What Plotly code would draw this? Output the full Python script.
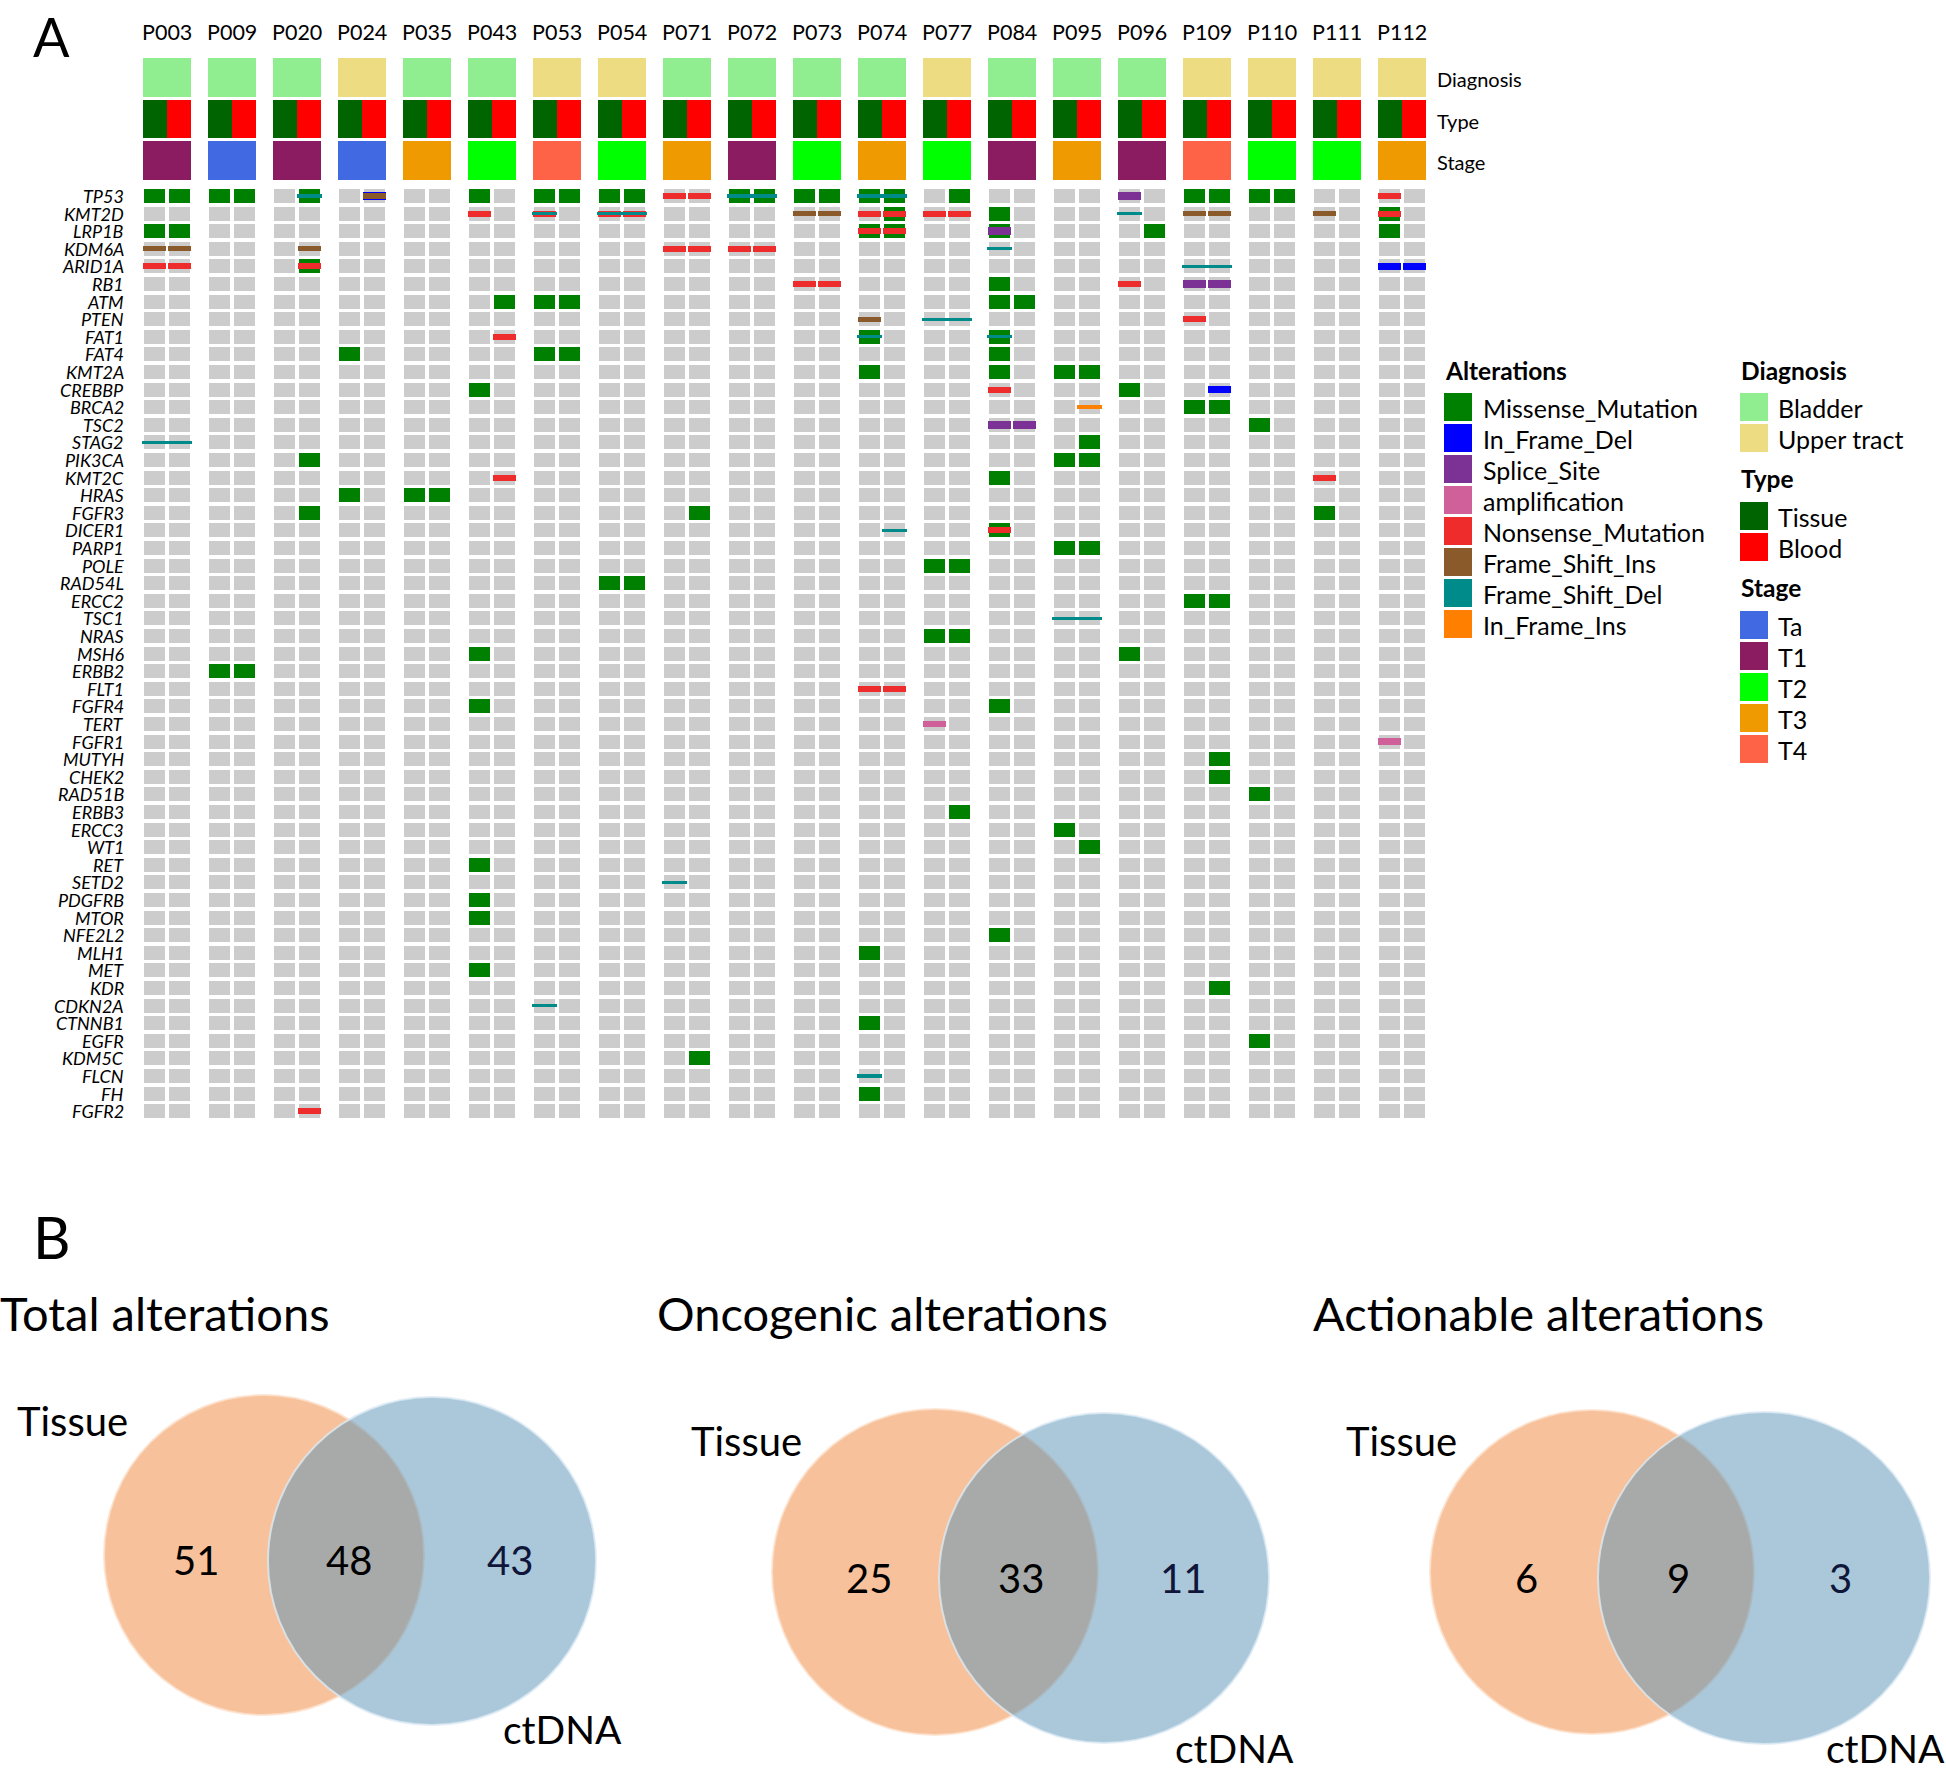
import plotly.graph_objects as go

W, H = 1946, 1772
FONT = "Lato"

# ---------------- data ----------------
patients = ["P003", "P009", "P020", "P024", "P035", "P043", "P053", "P054", "P071", "P072",
            "P073", "P074", "P077", "P084", "P095", "P096", "P109", "P110", "P111", "P112"]
genes = ["TP53", "KMT2D", "LRP1B", "KDM6A", "ARID1A", "RB1", "ATM", "PTEN", "FAT1", "FAT4",
         "KMT2A", "CREBBP", "BRCA2", "TSC2", "STAG2", "PIK3CA", "KMT2C", "HRAS", "FGFR3", "DICER1",
         "PARP1", "POLE", "RAD54L", "ERCC2", "TSC1", "NRAS", "MSH6", "ERBB2", "FLT1", "FGFR4",
         "TERT", "FGFR1", "MUTYH", "CHEK2", "RAD51B", "ERBB3", "ERCC3", "WT1", "RET", "SETD2",
         "PDGFRB", "MTOR", "NFE2L2", "MLH1", "MET", "KDR", "CDKN2A", "CTNNB1", "EGFR", "KDM5C",
         "FLCN", "FH", "FGFR2"]
diagnosis = ["Bladder", "Bladder", "Bladder", "Upper tract", "Bladder", "Bladder", "Upper tract",
             "Upper tract", "Bladder", "Bladder", "Bladder", "Bladder", "Upper tract", "Bladder",
             "Bladder", "Bladder", "Upper tract", "Upper tract", "Upper tract", "Upper tract"]
stage = ["T1", "Ta", "T1", "Ta", "T3", "T2", "T4", "T2", "T3", "T1",
         "T2", "T3", "T2", "T1", "T3", "T1", "T4", "T2", "T2", "T3"]
sample_types = ["Tissue", "Blood"]

# (patient, gene, samples) ; samples: T = tissue, B = blood
missense = [
    ("P003", "TP53", "TB"), ("P003", "LRP1B", "TB"),
    ("P009", "TP53", "TB"), ("P009", "ERBB2", "TB"),
    ("P020", "TP53", "B"), ("P020", "ARID1A", "B"), ("P020", "PIK3CA", "B"), ("P020", "FGFR3", "B"),
    ("P024", "FAT4", "T"), ("P024", "HRAS", "T"),
    ("P035", "HRAS", "TB"),
    ("P043", "TP53", "T"), ("P043", "ATM", "B"), ("P043", "CREBBP", "T"), ("P043", "MSH6", "T"),
    ("P043", "FGFR4", "T"), ("P043", "RET", "T"), ("P043", "PDGFRB", "T"), ("P043", "MTOR", "T"),
    ("P043", "MET", "T"),
    ("P053", "TP53", "TB"), ("P053", "ATM", "TB"), ("P053", "FAT4", "TB"),
    ("P054", "TP53", "TB"), ("P054", "RAD54L", "TB"),
    ("P071", "FGFR3", "B"), ("P071", "KDM5C", "B"),
    ("P072", "TP53", "TB"),
    ("P073", "TP53", "TB"),
    ("P074", "TP53", "TB"), ("P074", "KMT2D", "B"), ("P074", "LRP1B", "TB"), ("P074", "FAT1", "T"),
    ("P074", "KMT2A", "T"), ("P074", "MLH1", "T"), ("P074", "CTNNB1", "T"), ("P074", "FH", "T"),
    ("P077", "TP53", "B"), ("P077", "POLE", "TB"), ("P077", "NRAS", "TB"), ("P077", "ERBB3", "B"),
    ("P084", "KMT2D", "T"), ("P084", "LRP1B", "T"), ("P084", "RB1", "T"), ("P084", "ATM", "TB"),
    ("P084", "FAT1", "T"), ("P084", "FAT4", "T"), ("P084", "KMT2A", "T"), ("P084", "KMT2C", "T"),
    ("P084", "DICER1", "T"), ("P084", "FGFR4", "T"), ("P084", "NFE2L2", "T"),
    ("P095", "KMT2A", "TB"), ("P095", "STAG2", "B"), ("P095", "PIK3CA", "TB"), ("P095", "PARP1", "TB"),
    ("P095", "ERCC3", "T"), ("P095", "WT1", "B"),
    ("P096", "LRP1B", "B"), ("P096", "CREBBP", "T"), ("P096", "MSH6", "T"),
    ("P109", "TP53", "TB"), ("P109", "BRCA2", "TB"), ("P109", "ERCC2", "TB"), ("P109", "MUTYH", "B"),
    ("P109", "CHEK2", "B"), ("P109", "KDR", "B"),
    ("P110", "TP53", "TB"), ("P110", "TSC2", "T"), ("P110", "RAD51B", "T"), ("P110", "EGFR", "T"),
    ("P111", "FGFR3", "T"),
    ("P112", "KMT2D", "T"), ("P112", "LRP1B", "T"),
]
in_frame_del = [("P024", "TP53", "B"), ("P109", "CREBBP", "B"), ("P112", "ARID1A", "TB")]
splice_site = [("P084", "LRP1B", "T"), ("P084", "TSC2", "TB"), ("P096", "TP53", "T"), ("P109", "RB1", "TB")]
amplification = [("P077", "TERT", "T"), ("P112", "FGFR1", "T")]
nonsense = [
    ("P003", "ARID1A", "TB"), ("P020", "ARID1A", "B"), ("P020", "FGFR2", "B"), ("P043", "KMT2D", "T"),
    ("P043", "FAT1", "B"), ("P043", "KMT2C", "B"), ("P053", "KMT2D", "T"), ("P054", "KMT2D", "TB"),
    ("P071", "TP53", "TB"), ("P071", "KDM6A", "TB"), ("P072", "KDM6A", "TB"), ("P073", "RB1", "TB"),
    ("P074", "KMT2D", "TB"), ("P074", "LRP1B", "TB"), ("P074", "FLT1", "TB"), ("P077", "KMT2D", "TB"),
    ("P084", "CREBBP", "T"), ("P084", "DICER1", "T"), ("P096", "RB1", "T"), ("P109", "PTEN", "T"),
    ("P111", "KMT2C", "T"), ("P112", "TP53", "T"), ("P112", "KMT2D", "T"),
]
frame_shift_ins = [("P003", "KDM6A", "TB"), ("P020", "KDM6A", "B"), ("P024", "TP53", "B"),
                   ("P073", "KMT2D", "TB"), ("P074", "PTEN", "T"), ("P109", "KMT2D", "TB"),
                   ("P111", "KMT2D", "T")]
frame_shift_del = [("P003", "STAG2", "TB"), ("P020", "TP53", "B"), ("P053", "KMT2D", "T"),
                   ("P053", "CDKN2A", "T"), ("P054", "KMT2D", "TB"), ("P071", "SETD2", "T"),
                   ("P072", "TP53", "TB"), ("P074", "TP53", "TB"), ("P074", "FAT1", "T"),
                   ("P074", "DICER1", "B"), ("P074", "FLCN", "T"), ("P077", "PTEN", "TB"),
                   ("P084", "KDM6A", "T"), ("P084", "FAT1", "T"), ("P095", "TSC1", "TB"),
                   ("P096", "KMT2D", "T"), ("P109", "ARID1A", "TB")]
in_frame_ins = [("P095", "BRCA2", "B")]

alteration_names = ["Missense_Mutation", "In_Frame_Del", "Splice_Site", "amplification",
                    "Nonsense_Mutation", "Frame_Shift_Ins", "Frame_Shift_Del", "In_Frame_Ins"]
alteration_data = [missense, in_frame_del, splice_site, amplification,
                   nonsense, frame_shift_ins, frame_shift_del, in_frame_ins]

venn_titles = ["Total alterations", "Oncogenic alterations", "Actionable alterations"]
tissue_only = [51, 25, 6]
shared = [48, 33, 9]
ctdna_only = [43, 11, 3]

# ---------------- styles ----------------
alt_colors = ["#008000", "#0000FF", "#7B3294", "#D0609A", "#EE2C2C", "#8B5A2B", "#008B8B", "#FF7F00"]
alt_height = [0.795, 0.44, 0.44, 0.38, 0.34, 0.29, 0.18, 0.21]
alt_width = [0.85, 0.90, 0.90, 0.90, 0.93, 0.93, 0.98, 1.00]
diag_colors = {"Bladder": "#90EE90", "Upper tract": "#EEDC82"}
type_colors = {"Tissue": "#006400", "Blood": "#FF0000"}
stage_colors = {"Ta": "#4169E1", "T1": "#8B1C62", "T2": "#00FF00", "T3": "#EE9A00", "T4": "#FF6347"}

# oncoprint geometry (axis units): one sub-column = 25 px, one gene row = 17.6 px
PATIENT_STEP = 2.6
X0_PX, XU = 154.7, 25.0
Y0_PX, YU = 196.0, 17.6


def pcol(p, s):
    return patients.index(p) * PATIENT_STEP + (0 if s == "T" else 1)


fig = go.Figure()

# background grey cells
bx, bb = [], []
for i, p in enumerate(patients):
    for s in "TB":
        for g in range(len(genes)):
            bx.append(pcol(p, s))
            bb.append(g - 0.3975)
fig.add_trace(go.Bar(x=bx, y=[0.795] * len(bx), base=bb, width=0.85, marker_color="#CCCCCC",
                     marker_line_width=0, hoverinfo="skip", xaxis="x", yaxis="y"))

# alterations
for name, data, col, h, w in zip(alteration_names, alteration_data, alt_colors, alt_height, alt_width):
    xs, bs = [], []
    for p, g, ss in data:
        for s in ss:
            xs.append(pcol(p, s))
            bs.append(genes.index(g) - h / 2)
    fig.add_trace(go.Bar(x=xs, y=[h] * len(xs), base=bs, width=w, marker_color=col,
                         marker_line_width=0, name=name, hoverinfo="skip", xaxis="x", yaxis="y"))

# annotation rows (Diagnosis / Type / Stage)
DIAG_TOP, DIAG_BOT = -7.84, -5.625
TYPE_TOP, TYPE_BOT = -5.45, -3.30
STAGE_TOP, STAGE_BOT = -3.125, -0.909
centers = [i * PATIENT_STEP + 0.4875 for i in range(len(patients))]
fig.add_trace(go.Bar(x=centers, y=[DIAG_BOT - DIAG_TOP] * len(patients), base=[DIAG_TOP] * len(patients),
                     width=1.95, marker_color=[diag_colors[d] for d in diagnosis], marker_line_width=0,
                     hoverinfo="skip"))
tx, tc = [], []
for i in range(len(patients)):
    for k, t in enumerate(sample_types):
        tx.append(i * PATIENT_STEP + k * 0.975)
        tc.append(type_colors[t])
fig.add_trace(go.Bar(x=tx, y=[TYPE_BOT - TYPE_TOP] * len(tx), base=[TYPE_TOP] * len(tx), width=0.975,
                     marker_color=tc, marker_line_width=0, hoverinfo="skip"))
fig.add_trace(go.Bar(x=centers, y=[STAGE_BOT - STAGE_TOP] * len(patients), base=[STAGE_TOP] * len(patients),
                     width=1.95, marker_color=[stage_colors[s] for s in stage], marker_line_width=0,
                     hoverinfo="skip"))

annotations = []
shapes = []


def P(x, y):
    return x / W, 1 - y / H


def text(x, y, t, size, xanchor="center", color="black", yanchor="middle"):
    px, py = P(x, y)
    annotations.append(dict(x=px, y=py, xref="paper", yref="paper", text=t, showarrow=False,
                            xanchor=xanchor, yanchor=yanchor,
                            font=dict(family=FONT, size=size, color=color)))


# patient labels
for i, p in enumerate(patients):
    annotations.append(dict(x=centers[i], y=(32 - Y0_PX) / YU, xref="x", yref="y", text=p, showarrow=False,
                            xanchor="center", yanchor="middle", font=dict(family=FONT, size=21.5, color="black")))
# gene labels
for g, name in enumerate(genes):
    annotations.append(dict(x=-1.15, y=g, xref="x", yref="y", text="<i>%s</i>" % name, showarrow=False,
                            xanchor="right", yanchor="middle", font=dict(family=FONT, size=18, color="black")))
# row labels
lab_x = (len(patients) - 1) * PATIENT_STEP + 1.465 + 0.35
for lab, (a, b) in zip(["Diagnosis", "Type", "Stage"],
                       [(DIAG_TOP, DIAG_BOT), (TYPE_TOP, TYPE_BOT), (STAGE_TOP, STAGE_BOT)]):
    annotations.append(dict(x=lab_x, y=(a + b) / 2 + 0.1, xref="x", yref="y", text=lab, showarrow=False,
                            xanchor="left", yanchor="middle", font=dict(family=FONT, size=20, color="black")))

# panel letters
text(31, 2, "A", 54, xanchor="left", yanchor="top")
text(31, 1236, "B", 58, xanchor="left")


# legends
def swatch(x, y, color):
    x0, y1 = P(x, y - 14)
    x1, y0 = P(x + 28, y + 14)
    shapes.append(dict(type="rect", xref="paper", yref="paper", x0=x0, x1=x1, y0=y0, y1=y1,
                       fillcolor=color, line=dict(width=0), layer="above"))


text(1443, 370, "<b>Alterations</b>", 24.5, xanchor="left")
for k, (name, col) in enumerate(zip(alteration_names, alt_colors)):
    yy = 407 + 31 * k
    swatch(1444, yy, col)
    text(1481, yy + 1, name, 25, xanchor="left")

text(1739, 370, "<b>Diagnosis</b>", 24.5, xanchor="left")
for k, d in enumerate(["Bladder", "Upper tract"]):
    yy = 407 + 31 * k
    swatch(1740, yy, diag_colors[d])
    text(1776, yy + 1, d, 25, xanchor="left")
text(1739, 479, "<b>Type</b>", 24.5, xanchor="left")
for k, t in enumerate(sample_types):
    yy = 516 + 31 * k
    swatch(1740, yy, type_colors[t])
    text(1776, yy + 1, t, 25, xanchor="left")
text(1739, 588, "<b>Stage</b>", 24.5, xanchor="left")
for k, s in enumerate(["Ta", "T1", "T2", "T3", "T4"]):
    yy = 625 + 31 * k
    swatch(1740, yy, stage_colors[s])
    text(1776, yy + 1, s, 25, xanchor="left")

# Venn diagrams (layout constants per panel)
venn_layout = [
    dict(title_x=-2, title_y=1313, o=(264, 1555, 160), b=(432, 1561, 164), ny=1560,
         nx=(196, 349, 510), tissue=(15, 1421), ctdna=(501, 1729)),
    dict(title_x=655, title_y=1313, o=(935, 1572, 163), b=(1104, 1578, 165), ny=1578,
         nx=(869, 1021, 1183), tissue=(689, 1441), ctdna=(1173, 1748)),
    dict(title_x=1311, title_y=1313, o=(1592, 1572, 162), b=(1764, 1578, 166), ny=1578,
         nx=(1526, 1678, 1840), tissue=(1344, 1441), ctdna=(1824, 1748)),
]


def circle(cx, cy, r, fill, line):
    x0, y1 = P(cx - r, cy - r)
    x1, y0 = P(cx + r, cy + r)
    shapes.append(dict(type="circle", xref="paper", yref="paper", x0=x0, x1=x1, y0=y0, y1=y1,
                       fillcolor=fill, line=dict(color=line, width=2), layer="above"))


for k, v in enumerate(venn_layout):
    circle(*v["o"], "rgba(239,133,55,0.5)", "rgba(252,225,205,0.8)")
    circle(*v["b"], "rgba(87,145,181,0.5)", "rgba(220,234,244,0.8)")
    text(v["title_x"], v["title_y"], venn_titles[k], 47, xanchor="left")
    text(v["tissue"][0], v["tissue"][1], "Tissue", 40, xanchor="left")
    text(v["ctdna"][0], v["ctdna"][1], "ctDNA", 39, xanchor="left")
    text(v["nx"][0], v["ny"], str(tissue_only[k]), 40)
    text(v["nx"][1], v["ny"], str(shared[k]), 40)
    text(v["nx"][2], v["ny"], str(ctdna_only[k]), 40, color="#10163A")

fig.update_layout(
    width=W, height=H, margin=dict(l=0, r=0, t=0, b=0),
    paper_bgcolor="white", plot_bgcolor="white",
    barmode="overlay", bargap=0, showlegend=False,
    xaxis=dict(range=[-X0_PX / XU, (W - X0_PX) / XU], domain=[0, 1], visible=False, fixedrange=True),
    yaxis=dict(range=[(H - Y0_PX) / YU, -Y0_PX / YU], domain=[0, 1], visible=False, fixedrange=True),
    annotations=annotations, shapes=shapes,
    font=dict(family=FONT),
)

fig.write_html("out.html", config={"displayModeBar": False},
               post_script="document.body.style.margin='0';document.body.style.overflow='hidden';")
